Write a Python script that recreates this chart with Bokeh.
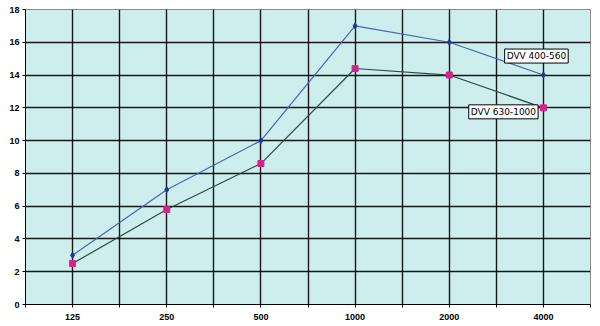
from bokeh.plotting import figure
from bokeh.models import FixedTicker, Range1d, Label
from bokeh.embed import file_html
from bokeh.resources import INLINE

categories = ["125", "250", "500", "1000", "2000", "4000"]
series_a_name = "DVV 400-560"
series_a = [3, 7, 10, 17, 16, 14]
series_b_name = "DVV 630-1000"
series_b = [2.5, 5.8, 8.6, 14.4, 14, 12]
y_ticks = [0, 2, 4, 6, 8, 10, 12, 14, 16, 18]

xs = list(range(1, len(categories) + 1))

p = figure(width=592, height=322, output_backend="svg", toolbar_location=None,
           x_range=Range1d(0.5, len(categories) + 0.5), y_range=Range1d(0, 18),
           min_border_left=25, min_border_right=2, min_border_top=9, min_border_bottom=0)
p.background_fill_color = "#cdeeed"
p.border_fill_color = "white"
p.outline_line_color = "#888888"
p.outline_line_width = 1

half_ticks = [0.5 + 0.5 * i for i in range(2 * len(categories) + 1)]
p.xaxis.ticker = FixedTicker(ticks=half_ticks)
overrides = {}
for t in half_ticks:
    overrides[t] = ""
for i, c in enumerate(categories):
    overrides[xs[i]] = c
p.xaxis.major_label_overrides = overrides
p.yaxis.ticker = FixedTicker(ticks=y_ticks)

for ax in (p.xaxis[0], p.yaxis[0]):
    ax.axis_line_color = "black"
    ax.axis_line_width = 1
    ax.major_tick_line_color = "black"
    ax.major_tick_out = 3
    ax.major_tick_in = 0
    ax.minor_tick_line_color = None
    ax.major_label_text_font = "Liberation Sans"
    ax.major_label_text_font_style = "bold"
    ax.major_label_text_font_size = "9px"
    ax.major_label_text_color = "black"
p.xaxis.major_label_standoff = 6
p.yaxis.major_label_standoff = 3

p.xgrid.grid_line_color = "black"
p.ygrid.grid_line_color = "black"
p.xgrid.grid_line_width = 1.4
p.ygrid.grid_line_width = 1.4
p.xgrid.grid_line_alpha = 0.9
p.ygrid.grid_line_alpha = 0.9

p.line(xs, series_a, line_color="#4565b5", line_width=1.2)
p.scatter(xs, series_a, marker="diamond", size=6, fill_color="#1f3a93", line_color="#1f3a93")
p.line(xs, series_b, line_color="#2b4a40", line_width=1.2)
p.scatter(xs, series_b, marker="square", size=6, fill_color="#d6218a", line_color="#d6218a")

lab_a = Label(x=xs[-1], y=series_a[-1], text=series_a_name, x_offset=-7, y_offset=19,
              text_align="center", text_baseline="middle", text_font="DejaVu Sans",
              text_font_size="9px", text_color="black", background_fill_color="white",
              border_line_color="black", border_line_width=1, padding=2)
lab_b = Label(x=xs[-1], y=series_b[-1], text=series_b_name, x_offset=-40, y_offset=-4,
              text_align="center", text_baseline="middle", text_font="DejaVu Sans",
              text_font_size="9px", text_color="black", background_fill_color="white",
              border_line_color="black", border_line_width=1, padding=2)
p.add_layout(lab_a)
p.add_layout(lab_b)

open("out.html", "w").write(file_html(p, INLINE))
